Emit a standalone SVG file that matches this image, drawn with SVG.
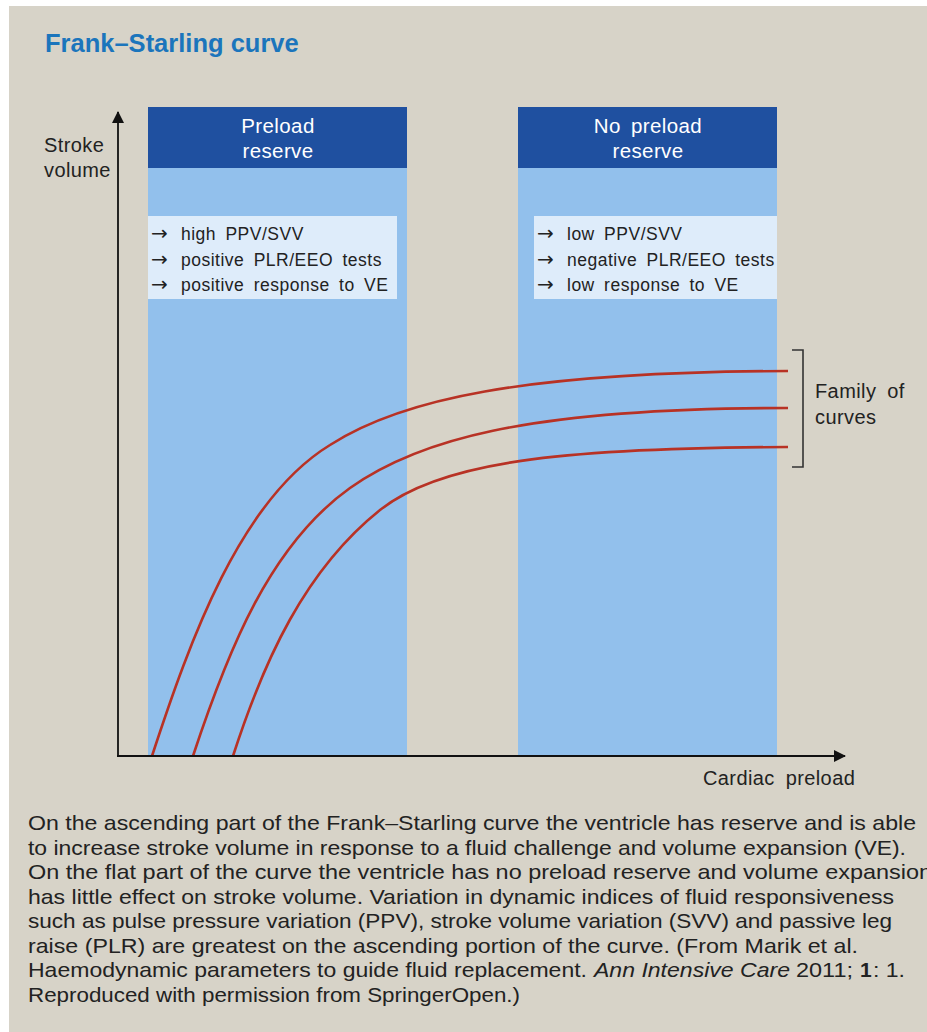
<svg xmlns="http://www.w3.org/2000/svg" width="927" height="1032" viewBox="0 0 927 1032">
<defs>
<style>
.bg{fill:#d7d3c8}
.hdr{fill:#1f50a0}
.col{fill:#92c0ec}
.box{fill:#deecfa}
.hdrtxt{font-family:"Liberation Sans",Arial,sans-serif;font-size:20.5px;fill:#ffffff;text-anchor:middle;letter-spacing:0.4px;word-spacing:4px}
.lbl{font-family:"Liberation Sans",Arial,sans-serif;font-size:20px;fill:#222222;letter-spacing:0.4px;word-spacing:5px}
.item{font-family:"Liberation Sans",Arial,sans-serif;font-size:17.5px;fill:#222222;letter-spacing:0.5px;word-spacing:4px}
.arr{font-family:"DejaVu Sans",sans-serif;font-size:20px;fill:#222222}
.curve{fill:none;stroke:#b83225;stroke-width:2.6}
.axis{fill:none;stroke:#111111;stroke-width:1.8}
.brk{fill:none;stroke:#333333;stroke-width:1.6}
.body{font-family:"Liberation Sans Narrow","Liberation Sans",Arial,sans-serif;font-size:21px;fill:#222222}
.title{font-family:"Liberation Sans",Arial,sans-serif;font-size:25.5px;font-weight:bold;fill:#1b75bc}
</style>
<marker id="ah" viewBox="0 0 12 12" refX="11" refY="6" markerWidth="12" markerHeight="12" markerUnits="userSpaceOnUse" orient="auto">
<path d="M0,0 L12,6 L0,12 Z" fill="#111111"/>
</marker>
</defs>
<rect x="0" y="0" width="927" height="1032" fill="#ffffff"/>
<rect class="bg" x="9" y="6" width="918" height="1026"/>
<text class="title" x="45" y="52">Frank–Starling curve</text>

<g id="col-preload-reserve">
<rect class="col" x="148" y="168" width="259" height="588"/>
<rect class="hdr" x="148" y="107" width="259" height="61"/>
<text class="hdrtxt" x="278" y="133">Preload</text>
<text class="hdrtxt" x="278" y="158">reserve</text>
</g>
<g id="col-no-preload-reserve">
<rect class="col" x="518" y="168" width="259" height="588"/>
<rect class="hdr" x="518" y="107" width="259" height="61"/>
<text class="hdrtxt" x="648" y="133">No preload</text>
<text class="hdrtxt" x="648" y="158">reserve</text>
</g>

<g id="box-left">
<rect class="box" x="148" y="216" width="249" height="83"/>
<text class="arr" x="151" y="240">→</text>
<text class="arr" x="151" y="265.5">→</text>
<text class="arr" x="151" y="291">→</text>
<text class="item" x="181" y="240">high PPV/SVV</text>
<text class="item" x="181" y="265.5">positive PLR/EEO tests</text>
<text class="item" x="181" y="291">positive response to VE</text>
</g>
<g id="box-right">
<rect class="box" x="534" y="216" width="243" height="83"/>
<text class="arr" x="537" y="240">→</text>
<text class="arr" x="537" y="265.5">→</text>
<text class="arr" x="537" y="291">→</text>
<text class="item" x="567" y="240">low PPV/SVV</text>
<text class="item" x="567" y="265.5">negative PLR/EEO tests</text>
<text class="item" x="567" y="291">low response to VE</text>
</g>

<g id="curves">
<path class="curve" d="M152,756 C190,640 240,500 330,445 C400,400 520,372 788,371"/>
<path class="curve" d="M193,756 C228,650 270,545 350,488 C415,442 520,408 788,408"/>
<path class="curve" d="M233,756 C264,660 305,570 380,510 C440,462 560,448 788,447"/>
</g>

<g id="connectors">
<line class="axis" x1="118" y1="757" x2="118" y2="112" marker-end="url(#ah)"/>
<line class="axis" x1="117" y1="756" x2="845" y2="756" marker-end="url(#ah)"/>
</g>

<g id="axis-labels">
<text class="lbl" x="44" y="152">Stroke</text>
<text class="lbl" x="44" y="177">volume</text>
<text class="lbl" x="703" y="785">Cardiac preload</text>
</g>

<g id="family-bracket">
<path class="brk" d="M792,350 H803 V467 H792"/>
<text class="lbl" x="815" y="398">Family of</text>
<text class="lbl" x="815" y="424">curves</text>
</g>

<g id="caption">
<text class="body" x="28" y="830" textLength="888" lengthAdjust="spacingAndGlyphs">On the ascending part of the Frank–Starling curve the ventricle has reserve and is able</text>
<text class="body" x="28" y="854.5" textLength="878" lengthAdjust="spacingAndGlyphs">to increase stroke volume in response to a fluid challenge and volume expansion (VE).</text>
<text class="body" x="28" y="879" textLength="904" lengthAdjust="spacingAndGlyphs">On the flat part of the curve the ventricle has no preload reserve and volume expansion</text>
<text class="body" x="28" y="903.5" textLength="866" lengthAdjust="spacingAndGlyphs">has little effect on stroke volume. Variation in dynamic indices of fluid responsiveness</text>
<text class="body" x="28" y="928" textLength="864" lengthAdjust="spacingAndGlyphs">such as pulse pressure variation (PPV), stroke volume variation (SVV) and passive leg</text>
<text class="body" x="28" y="952.5" textLength="830" lengthAdjust="spacingAndGlyphs">raise (PLR) are greatest on the ascending portion of the curve. (From Marik et al.</text>
<text class="body" x="28" y="977" textLength="559" lengthAdjust="spacingAndGlyphs">Haemodynamic parameters to guide fluid replacement.</text>
<text class="body" x="594" y="977" textLength="196" lengthAdjust="spacingAndGlyphs" font-style="italic">Ann Intensive Care</text>
<text class="body" x="796" y="977" textLength="57" lengthAdjust="spacingAndGlyphs">2011;</text>
<text class="body" x="860" y="977" font-weight="bold">1</text>
<text class="body" x="873" y="977" textLength="32" lengthAdjust="spacingAndGlyphs">: 1.</text>
<text class="body" x="28" y="1001.5" textLength="492" lengthAdjust="spacingAndGlyphs">Reproduced with permission from SpringerOpen.)</text>
</g>
</svg>
